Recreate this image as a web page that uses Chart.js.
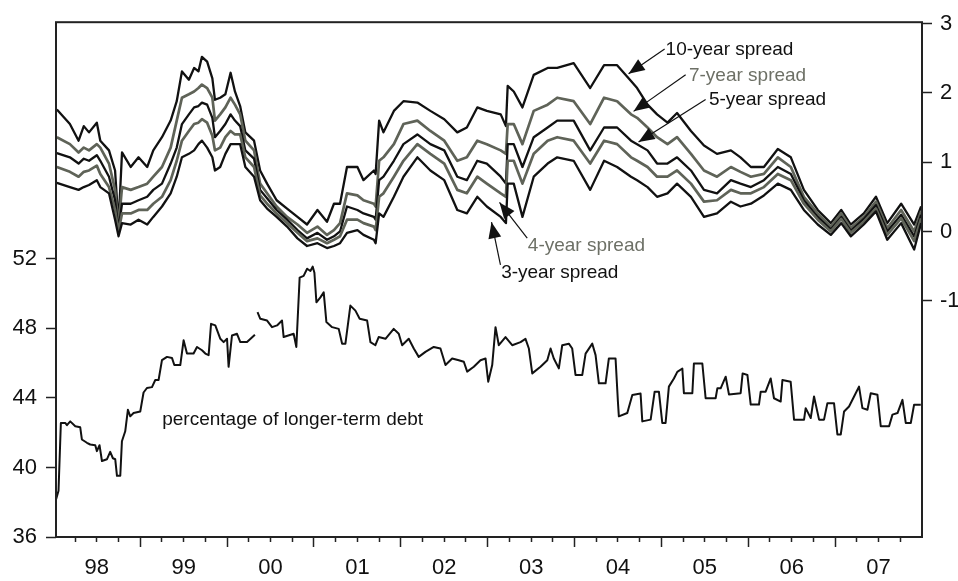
<!DOCTYPE html>
<html>
<head>
<meta charset="utf-8">
<script src="https://cdn.jsdelivr.net/npm/chart.js@4/dist/chart.umd.min.js"></script>
<style>
    body { margin: 0; background: #fff; }
    canvas { display: block; }
</style>
</head>
<body>
<canvas id="spreadChart" width="958" height="581"></canvas>
<script>
// Decimal years of the spread readings (shared by all five spreads)
const spreadYears = [1998.04, 1998.19, 1998.29, 1998.35, 1998.41, 1998.50, 1998.54, 1998.64, 1998.71, 1998.75,
    1998.79, 1998.89, 1998.98, 1999.08, 1999.15, 1999.25, 1999.35, 1999.42, 1999.48, 1999.56,
    1999.62, 1999.67, 1999.71, 1999.77, 1999.83, 1999.86, 1999.92, 1999.98, 2000.04, 2000.09,
    2000.15, 2000.21, 2000.31, 2000.38, 2000.46, 2000.57, 2000.69, 2000.81, 2000.92, 2001.04,
    2001.15, 2001.23, 2001.30, 2001.38, 2001.50, 2001.57, 2001.69, 2001.71, 2001.75, 2001.80,
    2001.92, 2002.03, 2002.19, 2002.34, 2002.50, 2002.65, 2002.76, 2002.88, 2002.99, 2003.15,
    2003.21, 2003.23, 2003.30, 2003.40, 2003.53, 2003.69, 2003.80, 2003.99, 2004.18, 2004.34,
    2004.49, 2004.65, 2004.72, 2004.84, 2004.95, 2005.07, 2005.18, 2005.34, 2005.49, 2005.64,
    2005.80, 2005.91, 2006.03, 2006.18, 2006.34, 2006.49, 2006.64, 2006.80, 2006.95, 2007.07,
    2007.18, 2007.33, 2007.47, 2007.60, 2007.76, 2007.91, 2007.99];

const spread10 = [1.76, 1.55, 1.31, 1.52, 1.43, 1.57, 1.31, 1.17, 0.88, 0.10,
    1.14, 0.93, 1.07, 0.93, 1.17, 1.36, 1.60, 1.88, 2.31, 2.19,
    2.36, 2.31, 2.52, 2.45, 2.21, 1.90, 1.93, 1.98, 2.29, 2.02,
    1.81, 1.43, 1.31, 0.88, 0.69, 0.45, 0.33, 0.21, 0.10, 0.31,
    0.14, 0.40, 0.40, 0.93, 0.93, 0.74, 0.88, 0.83, 1.60, 1.43,
    1.74, 1.88, 1.86, 1.74, 1.62, 1.43, 1.50, 1.79, 1.74, 1.69,
    1.52, 2.10, 2.02, 1.79, 2.26, 2.36, 2.36, 2.43, 2.07, 2.40,
    2.40, 2.17, 2.07, 1.83, 1.69, 1.57, 1.71, 1.45, 1.24, 1.12,
    1.17, 1.07, 0.93, 0.93, 1.19, 1.07, 0.60, 0.31, 0.12, 0.31,
    0.10, 0.26, 0.50, 0.12, 0.40, 0.10, 0.36];

const spread7 = [1.36, 1.26, 1.14, 1.21, 1.17, 1.26, 1.21, 0.98, 0.60, 0.07,
    0.64, 0.60, 0.64, 0.69, 0.79, 0.93, 1.21, 1.60, 1.93, 1.98,
    2.02, 2.07, 2.12, 2.07, 1.93, 1.60, 1.69, 1.79, 1.93, 1.83,
    1.69, 1.31, 1.17, 0.69, 0.55, 0.36, 0.21, 0.10, -0.02, 0.07,
    -0.05, 0.02, 0.12, 0.55, 0.52, 0.45, 0.40, 0.36, 1.02, 1.07,
    1.26, 1.55, 1.60, 1.45, 1.31, 1.02, 1.07, 1.31, 1.26, 1.17,
    1.12, 1.55, 1.55, 1.26, 1.74, 1.83, 1.93, 1.88, 1.55, 1.93,
    1.88, 1.69, 1.64, 1.50, 1.36, 1.26, 1.36, 1.12, 0.88, 0.79,
    0.93, 0.86, 0.79, 0.83, 1.07, 0.93, 0.50, 0.26, 0.07, 0.26,
    0.05, 0.21, 0.43, 0.05, 0.31, 0.00, 0.29];

const spread5 = [1.13, 1.07, 0.98, 1.05, 1.02, 1.10, 1.02, 0.79, 0.45, 0.03,
    0.40, 0.40, 0.45, 0.50, 0.60, 0.69, 0.98, 1.21, 1.55, 1.69,
    1.79, 1.81, 1.86, 1.83, 1.64, 1.36, 1.45, 1.55, 1.69, 1.60,
    1.52, 1.17, 1.05, 0.60, 0.48, 0.31, 0.17, 0.02, -0.10, -0.02,
    -0.12, -0.07, 0.00, 0.36, 0.31, 0.26, 0.21, 0.17, 0.74, 0.79,
    1.02, 1.26, 1.40, 1.26, 1.17, 0.79, 0.74, 1.02, 0.98, 0.79,
    0.69, 1.26, 1.26, 0.93, 1.36, 1.50, 1.60, 1.60, 1.17, 1.50,
    1.50, 1.31, 1.26, 1.17, 0.98, 0.98, 1.07, 0.88, 0.60, 0.55,
    0.74, 0.69, 0.64, 0.74, 0.93, 0.83, 0.45, 0.21, 0.03, 0.21,
    0.01, 0.18, 0.38, 0.00, 0.24, -0.07, 0.24];

const spread4 = [0.93, 0.86, 0.79, 0.86, 0.88, 0.95, 0.83, 0.64, 0.31, 0.00,
    0.26, 0.26, 0.31, 0.31, 0.40, 0.50, 0.74, 1.02, 1.31, 1.45,
    1.55, 1.57, 1.62, 1.57, 1.38, 1.17, 1.21, 1.36, 1.45, 1.40,
    1.40, 1.07, 0.93, 0.52, 0.40, 0.26, 0.12, -0.02, -0.14, -0.10,
    -0.17, -0.12, -0.07, 0.17, 0.17, 0.12, 0.07, 0.02, 0.50, 0.55,
    0.79, 1.02, 1.26, 1.12, 0.98, 0.60, 0.55, 0.79, 0.69, 0.55,
    0.50, 1.02, 1.02, 0.69, 1.12, 1.31, 1.36, 1.31, 0.98, 1.31,
    1.26, 1.07, 1.02, 0.93, 0.79, 0.79, 0.88, 0.69, 0.43, 0.45,
    0.60, 0.55, 0.55, 0.64, 0.83, 0.74, 0.40, 0.17, 0.00, 0.18,
    -0.02, 0.14, 0.33, -0.05, 0.19, -0.14, 0.19];

const spread3 = [0.70, 0.64, 0.60, 0.64, 0.67, 0.74, 0.64, 0.55, 0.17, -0.07,
    0.12, 0.10, 0.17, 0.10, 0.21, 0.36, 0.55, 0.79, 1.07, 1.12,
    1.17, 1.26, 1.31, 1.21, 1.07, 0.88, 0.93, 1.12, 1.26, 1.26,
    1.26, 0.93, 0.79, 0.45, 0.33, 0.21, 0.07, -0.10, -0.21, -0.17,
    -0.24, -0.21, -0.17, -0.02, 0.02, -0.05, -0.12, -0.17, 0.26, 0.21,
    0.50, 0.79, 1.07, 0.88, 0.74, 0.31, 0.26, 0.50, 0.36, 0.21,
    0.12, 0.69, 0.69, 0.21, 0.79, 0.98, 1.07, 1.02, 0.60, 1.02,
    0.93, 0.79, 0.74, 0.64, 0.50, 0.55, 0.69, 0.50, 0.21, 0.26,
    0.43, 0.36, 0.40, 0.52, 0.69, 0.60, 0.31, 0.10, -0.05, 0.12,
    -0.07, 0.10, 0.29, -0.12, 0.12, -0.26, 0.12];

// Percentage of longer-term debt (left axis); null marks the short gap in 2000
const debtYears = [1998.032, 1998.059, 1998.086, 1998.136, 1998.156, 1998.194, 1998.252, 1998.309, 1998.328, 1998.386,
    1998.424, 1998.482, 1998.501, 1998.531, 1998.559, 1998.616, 1998.654, 1998.685, 1998.712, 1998.732,
    1998.770, 1998.789, 1998.827, 1998.858, 1998.885, 1998.923, 1999.000, 1999.038, 1999.077, 1999.135,
    1999.173, 1999.211, 1999.250, 1999.308, 1999.365, 1999.392, 1999.461, 1999.499, 1999.538, 1999.614,
    1999.653, 1999.711, 1999.749, 1999.787, 1999.815, 1999.864, 1999.922, 1999.960, 1999.999, 2000.017,
    2000.056, 2000.114, 2000.152, 2000.229, 2000.320, 2000.335, 2000.350, 2000.382, 2000.460, 2000.517,
    2000.575, 2000.632, 2000.651, 2000.766, 2000.797, 2000.835, 2000.881, 2000.921, 2000.959, 2000.985,
    2001.005, 2001.028, 2001.074, 2001.112, 2001.143, 2001.209, 2001.285, 2001.324, 2001.362, 2001.419,
    2001.477, 2001.526, 2001.612, 2001.650, 2001.707, 2001.745, 2001.823, 2001.918, 2001.976, 2002.015,
    2002.091, 2002.149, 2002.206, 2002.283, 2002.379, 2002.456, 2002.514, 2002.591, 2002.667, 2002.725,
    2002.764, 2002.840, 2002.917, 2002.975, 2003.006, 2003.052, 2003.090, 2003.128, 2003.205, 2003.282,
    2003.378, 2003.435, 2003.474, 2003.513, 2003.608, 2003.686, 2003.724, 2003.761, 2003.819, 2003.858,
    2003.934, 2003.973, 2004.011, 2004.089, 2004.127, 2004.204, 2004.242, 2004.280, 2004.357, 2004.395,
    2004.472, 2004.499, 2004.510, 2004.607, 2004.665, 2004.760, 2004.780, 2004.876, 2004.922, 2004.971,
    2005.010, 2005.048, 2005.086, 2005.144, 2005.183, 2005.241, 2005.259, 2005.356, 2005.374, 2005.471,
    2005.509, 2005.624, 2005.644, 2005.682, 2005.740, 2005.778, 2005.912, 2005.935, 2005.990, 2006.028,
    2006.123, 2006.143, 2006.200, 2006.258, 2006.296, 2006.373, 2006.393, 2006.488, 2006.527, 2006.642,
    2006.661, 2006.719, 2006.757, 2006.815, 2006.872, 2006.911, 2006.987, 2007.026, 2007.065, 2007.103,
    2007.160, 2007.218, 2007.275, 2007.314, 2007.372, 2007.410, 2007.487, 2007.525, 2007.621, 2007.660,
    2007.718, 2007.775, 2007.813, 2007.871, 2007.909, 2007.986];

const debtShare = [38.19, 38.66, 42.56, 42.56, 42.43, 42.65, 42.37, 42.31, 41.61, 41.42,
    41.32, 41.28, 40.94, 41.28, 40.37, 40.47, 40.90, 40.53, 40.47, 39.52,
    39.52, 41.51, 42.08, 43.32, 42.94, 43.13, 43.22, 44.31, 44.57, 44.62,
    45.03, 45.03, 46.17, 46.36, 46.30, 45.89, 45.89, 47.31, 46.55, 46.55,
    46.93, 46.74, 46.55, 46.46, 48.26, 48.17, 47.40, 47.21, 47.40, 45.79,
    47.59, 47.69, 47.21, 47.21, 47.63, null, 48.93, 48.55, 48.45, 48.07,
    48.17, 48.45, 47.50, 47.69, 46.93, 50.92, 51.02, 51.43, 51.30, 51.55,
    51.20, 49.50, 49.78, 50.07, 48.36, 48.07, 47.97, 47.12, 47.12, 49.31,
    49.02, 48.55, 48.45, 47.21, 47.03, 47.50, 47.40, 47.97, 47.69, 47.03,
    47.40, 46.84, 46.36, 46.65, 46.93, 46.84, 45.89, 46.27, 46.17, 46.08,
    45.51, 45.79, 46.17, 46.27, 44.93, 45.89, 48.07, 47.03, 47.50, 47.03,
    47.21, 47.40, 46.84, 45.41, 45.79, 46.17, 46.84, 46.27, 45.70, 47.03,
    47.12, 46.84, 45.32, 45.32, 46.55, 47.12, 46.46, 44.84, 44.84, 46.27,
    46.27, 43.79, 42.94, 43.13, 44.17, 44.25, 42.65, 42.75, 44.36, 44.36,
    42.56, 42.56, 44.65, 45.12, 45.50, 45.69, 44.27, 44.27, 45.98, 45.98,
    43.98, 43.98, 44.55, 44.55, 45.22, 44.19, 44.27, 45.41, 45.32, 43.62,
    43.62, 44.36, 44.36, 45.12, 43.98, 43.79, 45.03, 44.93, 42.75, 42.75,
    43.41, 42.84, 44.08, 42.75, 42.75, 43.70, 43.70, 41.90, 41.90, 43.22,
    43.51, 44.08, 44.65, 43.41, 43.32, 44.27, 44.18, 42.37, 42.37, 43.04,
    43.13, 43.89, 42.56, 42.56, 43.61, 43.61];

// Axis ticks
const tickYears = [1998, 1999, 2000, 2001, 2002, 2003, 2004, 2005, 2006, 2007];
const yearLabels = ['98', '99', '00', '01', '02', '03', '04', '05', '06', '07'];
const debtTicks = [36, 40, 44, 48, 52];
const spreadTicks = [-1, 0, 1, 2, 3];

const BLACK = '#111111';
const GRAY = '#5f6358';
const GRAY_TEXT = '#6d7066';
const FONT = '"Liberation Sans", Arial, Helvetica, sans-serif';

function toPoints(xs, ys) {
    return xs.map((x, i) => ({ x: x, y: ys[i] }));
}

// quarter ticks; whole years get long marks, labels sit at mid-year
const quarterTicks = [];
tickYears.forEach(y => {
    if (y > 1998) quarterTicks.push(y);
    quarterTicks.push(y + 0.25, y + 0.5, y + 0.75);
});

// notes next to the lines, placed in data units
const notes = [
    { text: '10-year spread', color: BLACK, at: [2005.048, 2.547], from: [2005.037, 2.633], to: [2004.622, 2.276] },
    { text: '7-year spread', color: GRAY_TEXT, at: [2005.317, 2.176], from: [2005.279, 2.261], to: [2004.680, 1.733] },
    { text: '5-year spread', color: BLACK, at: [2005.547, 1.819], from: [2005.509, 1.904], to: [2004.737, 1.290] },
    { text: '4-year spread', color: GRAY_TEXT, at: [2003.462, -0.286], from: [2003.455, -0.096], to: [2003.136, 0.419] },
    { text: '3-year spread', color: BLACK, at: [2003.155, -0.667], from: [2003.147, -0.481], to: [2003.044, 0.133] }
];
const debtNote = { text: 'percentage of longer-term debt', at: [1999.253, 42.47] };

const framePlugin = {
    id: 'frame',
    afterDraw(chart) {
        const { ctx, chartArea: a } = chart;
        ctx.save();
        ctx.strokeStyle = '#222';
        ctx.lineWidth = 2;
        ctx.strokeRect(a.left, a.top, a.right - a.left, a.bottom - a.top);
        ctx.restore();
    }
};

const notesPlugin = {
    id: 'notes',
    afterDatasetsDraw(chart) {
        const { ctx } = chart;
        const xs = chart.scales.x, ys = chart.scales.spread, ds = chart.scales.debt;
        ctx.save();
        ctx.font = '19px ' + FONT;
        ctx.textBaseline = 'alphabetic';
        ctx.textAlign = 'left';
        notes.forEach(n => {
            const x0 = xs.getPixelForValue(n.from[0]), y0 = ys.getPixelForValue(n.from[1]);
            const x1 = xs.getPixelForValue(n.to[0]), y1 = ys.getPixelForValue(n.to[1]);
            ctx.strokeStyle = BLACK;
            ctx.fillStyle = BLACK;
            ctx.lineWidth = 1.2;
            ctx.beginPath();
            ctx.moveTo(x0, y0);
            ctx.lineTo(x1, y1);
            ctx.stroke();
            // arrow head
            const ang = Math.atan2(y1 - y0, x1 - x0);
            const len = 16, half = 6.5;
            const bx = x1 - len * Math.cos(ang), by = y1 - len * Math.sin(ang);
            ctx.beginPath();
            ctx.moveTo(x1, y1);
            ctx.lineTo(bx + half * Math.sin(ang), by - half * Math.cos(ang));
            ctx.lineTo(bx - half * Math.sin(ang), by + half * Math.cos(ang));
            ctx.closePath();
            ctx.fill();

            ctx.fillStyle = n.color;
            ctx.fillText(n.text, xs.getPixelForValue(n.at[0]), ys.getPixelForValue(n.at[1]));
        });
        ctx.fillStyle = BLACK;
        ctx.fillText(debtNote.text, xs.getPixelForValue(debtNote.at[0]), ds.getPixelForValue(debtNote.at[1]));
        ctx.restore();
    }
};

function spreadSet(label, values, color, width) {
    return {
        label: label,
        data: toPoints(spreadYears, values),
        yAxisID: 'spread',
        borderColor: color,
        borderWidth: width,
        pointRadius: 0,
        tension: 0
    };
}

const ctx = document.getElementById('spreadChart').getContext('2d');
new Chart(ctx, {
    type: 'line',
    data: {
        datasets: [
            spreadSet('3-year spread', spread3, BLACK, 2.3),
            spreadSet('4-year spread', spread4, GRAY, 2.7),
            spreadSet('5-year spread', spread5, BLACK, 2.3),
            spreadSet('7-year spread', spread7, GRAY, 2.7),
            spreadSet('10-year spread', spread10, BLACK, 2.3),
            {
                label: 'percentage of longer-term debt',
                data: toPoints(debtYears, debtShare),
                yAxisID: 'debt',
                borderColor: BLACK,
                borderWidth: 2,
                pointRadius: 0,
                tension: 0,
                spanGaps: false
            }
        ]
    },
    options: {
        responsive: false,
        animation: false,
        layout: { padding: { top: 17, left: 0, right: 0, bottom: 0 } },
        plugins: {
            legend: { display: false },
            tooltip: { enabled: false }
        },
        elements: { line: { borderJoinStyle: 'round' } },
        scales: {
            x: {
                type: 'linear',
                min: 1998.03,
                max: 2008,
                afterBuildTicks: s => { s.ticks = quarterTicks.map(v => ({ value: v })); },
                afterFit: s => { s.height = 44; },
                border: { display: false },
                grid: {
                    drawOnChartArea: false,
                    tickLength: 10,
                    tickWidth: 1.5,
                    tickColor: '#222',
                    tickBorderDash: c => (c.tick && Number.isInteger(c.tick.value)) ? [] : [5, 10]
                },
                ticks: {
                    autoSkip: false,
                    maxRotation: 0,
                    padding: 8,
                    color: BLACK,
                    font: { family: FONT, size: 22 },
                    callback: v => (v - Math.floor(v) === 0.5) ? yearLabels[Math.floor(v) - 1998] : ''
                }
            },
            debt: {
                type: 'linear',
                position: 'left',
                min: 36,
                max: 65.61,
                afterBuildTicks: s => { s.ticks = debtTicks.map(v => ({ value: v })); },
                afterFit: s => { s.width = 56; },
                border: { display: false },
                grid: { drawOnChartArea: false, tickLength: 10, tickWidth: 1.5, tickColor: '#222' },
                ticks: { padding: 9, color: BLACK, font: { family: FONT, size: 22 }, callback: v => String(v) }
            },
            spread: {
                type: 'linear',
                position: 'right',
                min: -4.41,
                max: 3.02,
                afterBuildTicks: s => { s.ticks = spreadTicks.map(v => ({ value: v })); },
                afterFit: s => { s.width = 36; },
                border: { display: false },
                grid: { drawOnChartArea: false, tickLength: 10, tickWidth: 1.5, tickColor: '#222' },
                ticks: { padding: 8, color: BLACK, font: { family: FONT, size: 22 }, callback: v => String(v) }
            }
        }
    },
    plugins: [framePlugin, notesPlugin]
});
</script>
</body>
</html>
